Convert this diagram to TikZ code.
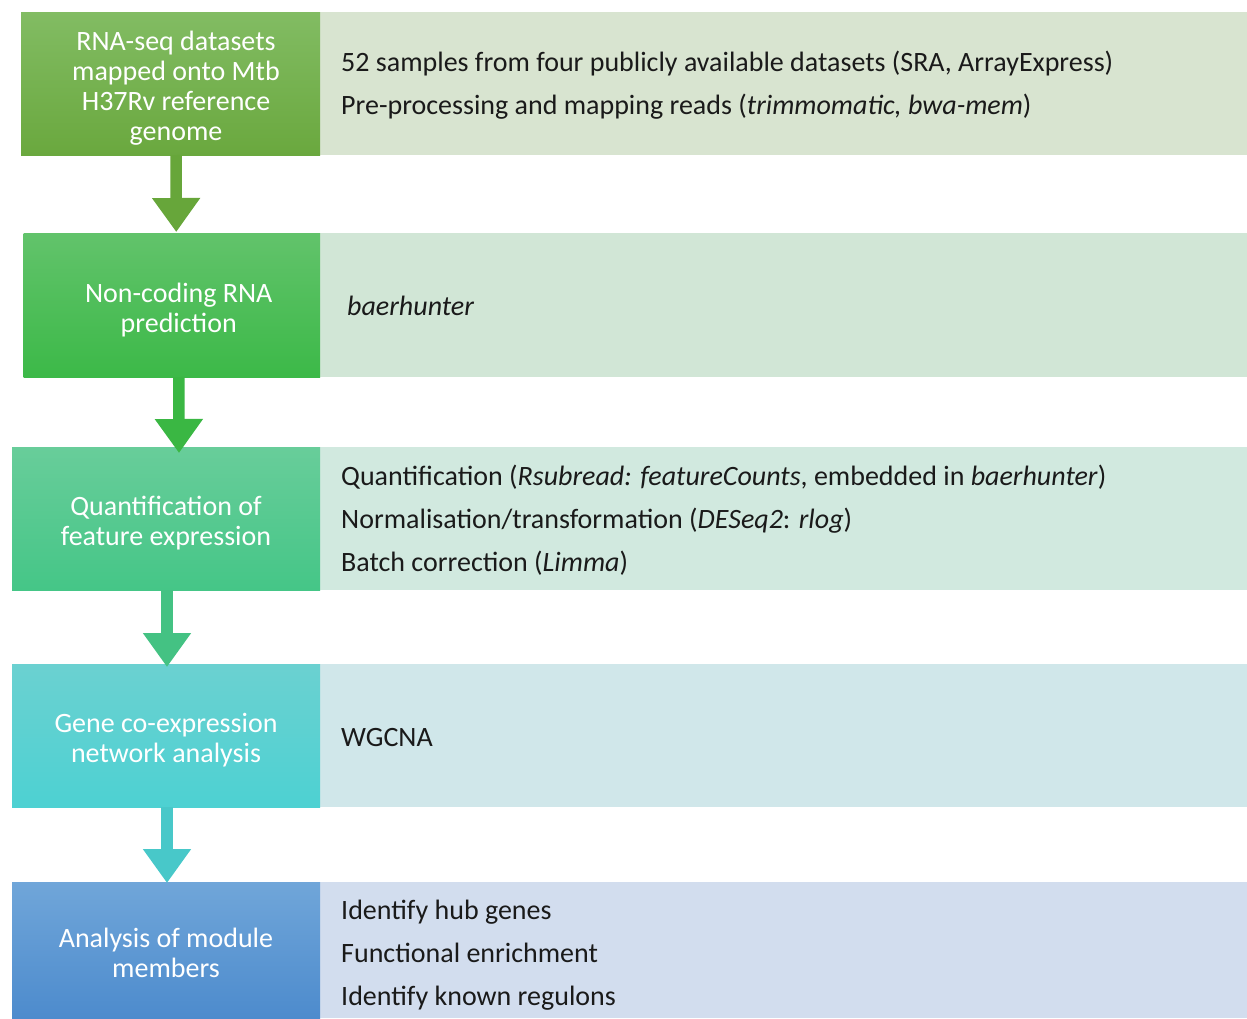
\documentclass[tikz,border=0pt]{standalone}
\usepackage{fontspec}
\setmainfont{Carlito}
\usetikzlibrary{arrows.meta}
\definecolor{gA}{HTML}{82BC63}\definecolor{gAb}{HTML}{6AA83E}\definecolor{pA}{HTML}{D8E4D0}
\definecolor{gB}{HTML}{62C36B}\definecolor{gBb}{HTML}{3CB948}\definecolor{pB}{HTML}{D1E6D6}
\definecolor{gC}{HTML}{68CD9A}\definecolor{gCb}{HTML}{45C687}\definecolor{pC}{HTML}{D1E9DF}
\definecolor{gD}{HTML}{6BD1D1}\definecolor{gDb}{HTML}{4DD1D2}\definecolor{pD}{HTML}{D0E7EA}
\definecolor{gE}{HTML}{70A6D9}\definecolor{gEb}{HTML}{4D8BCD}\definecolor{pE}{HTML}{D2DDEE}
\definecolor{aA}{HTML}{67A63A}\definecolor{aB}{HTML}{3AB743}\definecolor{aC}{HTML}{44C283}\definecolor{aD}{HTML}{48C8C9}
\definecolor{txt}{HTML}{1A1A1A}
\begin{document}
\begin{tikzpicture}[x=1pt,y=-1pt,
  stagebox/.style={anchor=north west, inner sep=0pt, outer sep=0pt, minimum height=143pt},
  stagelabel/.style={inner sep=0pt, text=white, align=center, font=\fontsize{28}{30}\selectfont},
  panel/.style={anchor=north west, inner sep=0pt, outer sep=0pt, minimum width=927pt, minimum height=143pt},
  desc/.style={anchor=west, inner sep=0pt, text=txt, align=left, font=\fontsize{28}{43}\selectfont},
  flow/.style={line width=11.5pt, -{Triangle[width=46pt,length=34pt]}}]
\useasboundingbox (0,0) rectangle (1247,1018);
% panels
\node[panel, fill=pA] (p1) at (320,12) {};
\node[panel, fill=pB, minimum height=144pt] (p2) at (320,233) {};
\node[panel, fill=pC] (p3) at (320,447) {};
\node[panel, fill=pD] (p4) at (320,664) {};
\node[panel, fill=pE, minimum height=136pt] (p5) at (320,882) {};
% stage boxes
\node[stagebox, minimum width=299pt, top color=gA, bottom color=gAb] (b1) at (21,12) {};
\node[stagebox, minimum width=296.5pt, minimum height=144pt, top color=gB, bottom color=gBb] (b2) at (23.5,233) {};
\node[stagebox, minimum width=308pt, top color=gC, bottom color=gCb] (b3) at (12,447) {};
\node[stagebox, minimum width=308pt, top color=gD, bottom color=gDb] (b4) at (12,664) {};
\node[stagebox, minimum width=308pt, minimum height=136pt, top color=gE, bottom color=gEb] (b5) at (12,882) {};
% stage labels
\node[stagelabel] (t1) at ([xshift=5.5pt,yshift=-5pt]b1.center) {RNA-seq datasets\\mapped onto Mtb\\H37Rv reference\\genome};
\node[stagelabel] (t2) at ([xshift=7pt,yshift=-5pt]b2.center) {Non-coding RNA\\prediction};
\node[stagelabel] (t3) at ([yshift=-5pt]b3.center) {Quantification of\\feature expression};
\node[stagelabel] (t4) at ([yshift=-5pt]b4.center) {Gene co-expression\\network analysis};
\node[stagelabel] (t5) at ([yshift=-3pt]b5.center) {Analysis of module\\members};
% descriptions
\node[desc] (d1) at (341,85.5) {52 samples from four publicly available datasets (SRA, ArrayExpress)\\Pre-processing and mapping reads (\textit{trimmomatic, bwa-mem})};
\node[desc] (d2) at (347,306) {\textit{baerhunter}};
\node[desc] (d3) at (341,520) {Quantification (\textit{Rsubread: featureCounts}, embedded in \textit{baerhunter})\\Normalisation/transformation (\textit{DESeq2}: \textit{rlog})\\Batch correction (\textit{Limma})};
\node[desc] (d4) at (341,737) {WGCNA};
\node[desc] (d5) at (341,955) {Identify hub genes\\Functional enrichment\\Identify known regulons};
% arrows
\draw[flow, draw=aA] ([xshift=5.5pt]b1.south) -- ([xshift=4.5pt,yshift=1pt]b2.north);
\draw[flow, draw=aB] ([xshift=7pt]b2.south) -- ([xshift=13pt,yshift=-6pt]b3.north);
\draw[flow, draw=aC] ([xshift=1pt]b3.south) -- ([xshift=1pt,yshift=-3pt]b4.north);
\draw[flow, draw=aD] ([xshift=1pt]b4.south) -- ([xshift=1pt,yshift=-1pt]b5.north);
\end{tikzpicture}
\end{document}
